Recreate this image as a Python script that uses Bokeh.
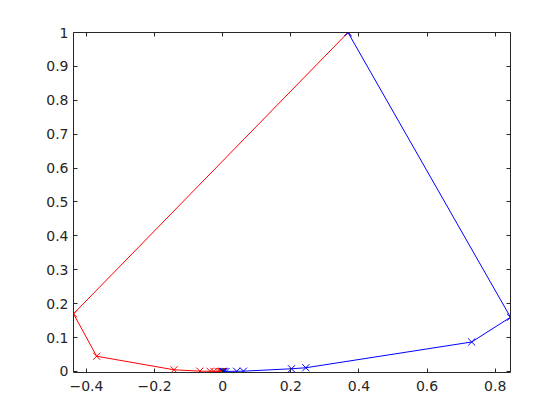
from bokeh.plotting import figure
from bokeh.models import Range1d, LinearAxis, FixedTicker
from bokeh.embed import file_html
from bokeh.resources import INLINE

# Data
red_x = [0.368, -0.438, -0.370, -0.143, -0.067, -0.037, -0.026, -0.014, -0.007, -0.003, -0.001, 0.0]
red_y = [1.0, 0.170, 0.045, 0.005, 0.001, 0.0005, 0.0003, 0.0001, 0.0, 0.0, 0.0, 0.0]
blue_x = [0.368, 0.845, 0.731, 0.244, 0.202, 0.061, 0.041, 0.010, 0.004, 0.002, 0.001, 0.0]
blue_y = [1.0, 0.160, 0.087, 0.011, 0.008, 0.001, 0.0006, 0.0001, 0.0, 0.0, 0.0, 0.0]

x_ticks = [-0.4, -0.2, 0, 0.2, 0.4, 0.6, 0.8]
y_ticks = [0, 0.1, 0.2, 0.3, 0.4, 0.5, 0.6, 0.7, 0.8, 0.9, 1.0]

FONT = "DejaVu Sans"
AX = "#262626"

p = figure(width=552, height=412, frame_width=437, frame_height=340,
           min_border_left=73, min_border_right=42, min_border_top=32, min_border_bottom=40,
           x_range=Range1d(-0.438, 0.845), y_range=Range1d(-0.003, 1.0),
           output_backend="svg", toolbar_location=None,
           x_axis_location=None, y_axis_location=None)
p.background_fill_color = "white"
p.border_fill_color = "white"
p.outline_line_color = None
p.xgrid.visible = False
p.ygrid.visible = False

def style(ax, ticks, labels=True):
    ax.ticker = FixedTicker(ticks=ticks)
    ax.minor_tick_line_color = None
    ax.major_tick_in = 4
    ax.major_tick_out = 0
    ax.axis_line_color = AX
    ax.major_tick_line_color = AX
    ax.major_label_text_font = FONT
    ax.major_label_text_font_size = "14px"
    ax.major_label_text_color = AX
    if not labels:
        ax.major_label_text_font_size = "0px"
        ax.major_label_text_alpha = 0

bx = LinearAxis(); style(bx, x_ticks); bx.major_label_standoff = 8
tx = LinearAxis(); style(tx, x_ticks, False)
ly = LinearAxis(); style(ly, y_ticks); ly.major_label_standoff = 5
ry = LinearAxis(); style(ry, y_ticks, False)
p.add_layout(bx, "below")
p.add_layout(tx, "above")
p.add_layout(ly, "left")
p.add_layout(ry, "right")

p.line(red_x, red_y, line_color="#ff0000", line_width=1)
p.scatter(red_x, red_y, marker="x", size=10, line_color="#ff0000", line_width=1)
p.line(blue_x, blue_y, line_color="#0000ff", line_width=1)
p.scatter(blue_x, blue_y, marker="x", size=10, line_color="#0000ff", line_width=1)

open("out.html", "w").write(file_html(p, INLINE))
